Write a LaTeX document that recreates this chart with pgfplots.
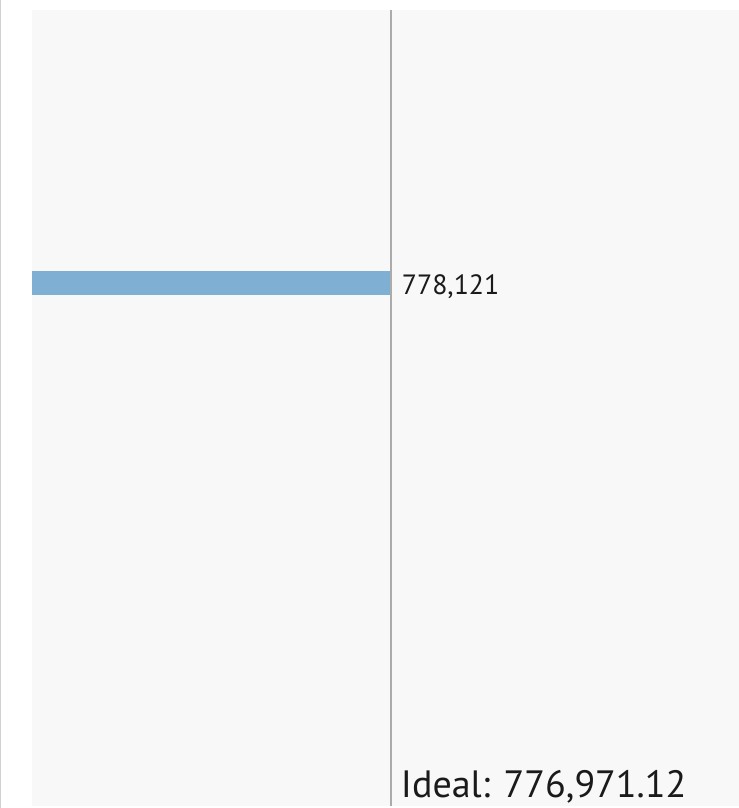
\documentclass[border=0pt]{standalone}
\usepackage{pgfplots}
\pgfplotsset{compat=1.18}
\usepackage{fontspec}
\setmainfont{PT Sans}
\definecolor{bgpanel}{HTML}{F8F8F8}
\definecolor{barblue}{HTML}{7FB0D3}
\definecolor{idealgray}{HTML}{ABABAB}
\definecolor{txt}{HTML}{1A1A1A}
\begin{document}
\begin{tikzpicture}[x=1bp,y=1bp]
\path[use as bounding box, fill=white] (0,0) rectangle (739,808);
\draw[draw=black!18, line width=1.5bp] (0.75,0) -- (0.75,808);
\begin{axis}[
  at={(32bp,2bp)}, anchor=south west,
  scale only axis, width=707bp, height=796bp,
  xmin=0, xmax=1530000, ymin=0, ymax=796,
  axis lines=none, ticks=none,
  axis background/.style={fill=bgpanel},
  clip=false,
]
\addplot[xbar, bar width=24, fill=barblue, draw=none] coordinates {(778121,523)};
\addplot[idealgray, line width=1.8bp] coordinates {(776971.12,0) (776971.12,796)};
\node[anchor=west, text=txt, font=\fontsize{28}{30}\selectfont, inner sep=0pt] at (axis cs:800000,519) {778,121};
\node[anchor=base west, text=txt, font=\fontsize{38.2}{42}\selectfont, inner sep=0pt] at (axis cs:798000,8) {Ideal: 776,971.12};
\end{axis}
\end{tikzpicture}
\end{document}
